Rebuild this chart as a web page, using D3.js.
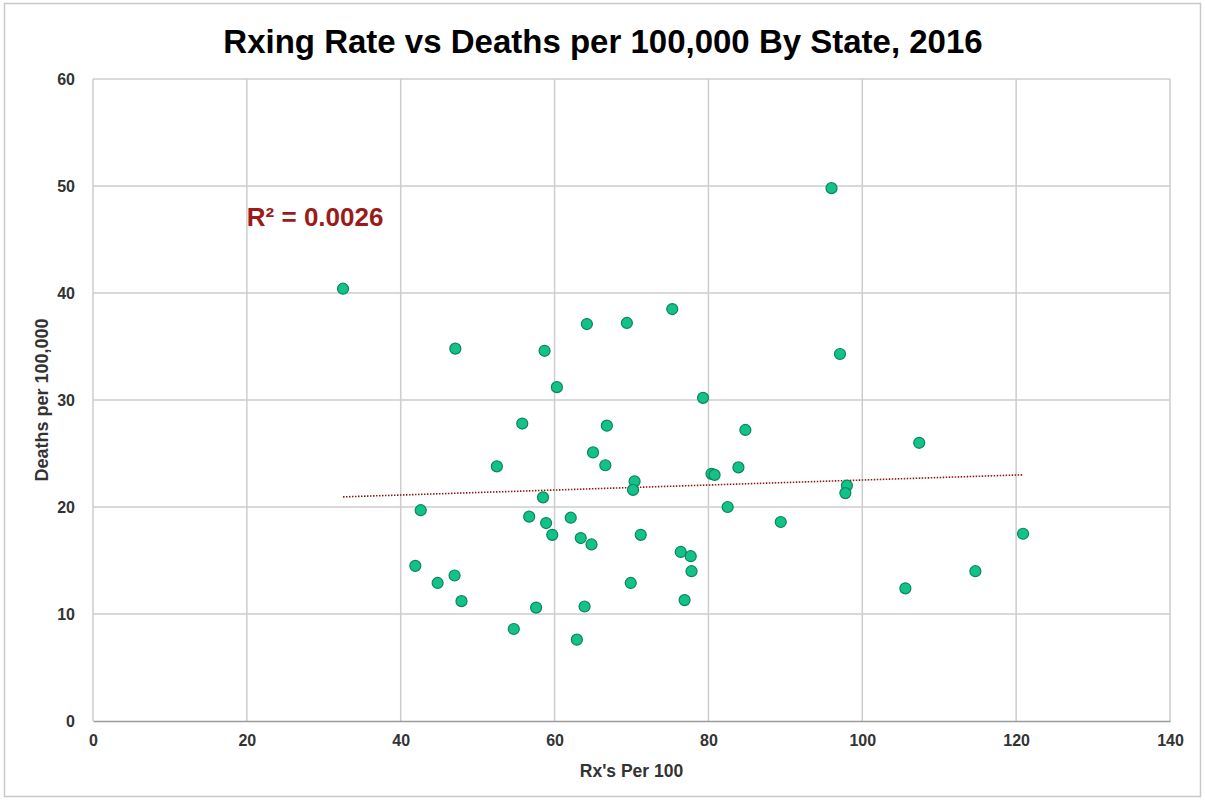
<!DOCTYPE html>
<html>
<head>
<meta charset="utf-8">
<script src="https://cdn.jsdelivr.net/npm/d3@7"></script>
<style>
 body { margin: 0; background: #fff; }
 text { font-family: "Liberation Sans", Arial, sans-serif; }
</style>
</head>
<body>
<div id="chart"></div>
<script>
// Rx's per 100 (x) and deaths per 100,000 (y), one entry per state
var rxRate = [32.5, 47.1, 58.7, 64.2, 69.4, 60.3, 55.8, 66.8, 65.0, 66.6,
 52.5, 80.4, 80.8, 70.4, 70.2, 58.5, 42.6, 56.7, 62.1, 58.9,
 59.7, 71.2, 63.4, 64.8, 76.4, 77.7, 77.8, 41.9, 47.0, 44.8,
 69.9, 47.9, 76.9, 57.6, 63.9, 54.7, 62.9, 75.3, 97.1, 79.3,
 84.8, 83.9, 98.0, 97.8, 82.5, 89.4, 96.0, 107.4, 120.9, 114.7, 105.6];
var deaths = [40.4, 34.8, 34.6, 37.1, 37.2, 31.2, 27.8, 27.6, 25.1, 23.9,
 23.8, 23.1, 23.0, 22.4, 21.6, 20.9, 19.7, 19.1, 19.0, 18.5,
 17.4, 17.4, 17.1, 16.5, 15.8, 15.4, 14.0, 14.5, 13.6, 12.9,
 12.9, 11.2, 11.3, 10.6, 10.7, 8.6, 7.6, 38.5, 34.3, 30.2,
 27.2, 23.7, 22.0, 21.3, 20.0, 18.6, 49.8, 26.0, 17.5, 14.0, 12.4];
var xTicks = [0, 20, 40, 60, 80, 100, 120, 140];
var yTicks = [0, 10, 20, 30, 40, 50, 60];
var rSquaredLabel = "R\u00B2 = 0.0026";

var W = 1205, H = 801;
var margin = {top: 79, right: 35, bottom: 80, left: 93},
 width = W - margin.left - margin.right,
 height = H - margin.top - margin.bottom;

var svg = d3.select("#chart")
 .append("svg")
 .attr("width", W)
 .attr("height", H);

// outer frame
svg.append("rect")
 .attr("x", 4.5).attr("y", 3.5)
 .attr("width", W - 9).attr("height", H - 8)
 .attr("fill", "none")
 .attr("stroke", "#c9c9c9")
 .attr("stroke-width", 1.5);

var g = svg.append("g")
 .attr("transform", "translate(" + margin.left + "," + margin.top + ")");

var x = d3.scaleLinear().domain([0, 140]).range([0, width]);
var y = d3.scaleLinear().domain([0, 60]).range([height, 0]);

// gridlines
g.append("g")
 .selectAll("line.v")
 .data(xTicks)
 .enter().append("line")
 .attr("x1", function(d) { return x(d); })
 .attr("x2", function(d) { return x(d); })
 .attr("y1", 0).attr("y2", height)
 .attr("stroke", "#cdcdcd")
 .attr("stroke-width", 1.5);

g.append("g")
 .selectAll("line.h")
 .data(yTicks.filter(function(d) { return d > 0; }))
 .enter().append("line")
 .attr("x1", 0).attr("x2", width)
 .attr("y1", function(d) { return y(d); })
 .attr("y2", function(d) { return y(d); })
 .attr("stroke", "#cdcdcd")
 .attr("stroke-width", 1.5);

// x axis
var xAxis = g.append("g")
 .attr("transform", "translate(0," + height + ")")
 .call(d3.axisBottom(x).tickValues(xTicks).tickSize(0).tickPadding(14));
xAxis.select(".domain").attr("stroke", "#9a9a9a").attr("stroke-width", 1.5);
xAxis.selectAll("text")
 .attr("fill", "#333")
 .style("font-size", "16px")
 .style("font-weight", "bold");

// y axis
var yAxis = g.append("g")
 .call(d3.axisLeft(y).tickValues(yTicks).tickSize(0).tickPadding(18));
yAxis.select(".domain").remove();
yAxis.selectAll("text")
 .attr("fill", "#333")
 .style("font-size", "16px")
 .style("font-weight", "bold");

// trendline from least squares fit
var n = rxRate.length;
var mx = d3.mean(rxRate), my = d3.mean(deaths);
var sxy = 0, sxx = 0;
for (var i = 0; i < n; i++) {
 sxy += (rxRate[i] - mx) * (deaths[i] - my);
 sxx += (rxRate[i] - mx) * (rxRate[i] - mx);
}
var slope = sxy / sxx, icpt = my - slope * mx;
var xMin = d3.min(rxRate), xMax = d3.max(rxRate);
g.append("line")
 .attr("x1", x(xMin)).attr("y1", y(icpt + slope * xMin))
 .attr("x2", x(xMax)).attr("y2", y(icpt + slope * xMax))
 .attr("stroke", "#8b1a1a")
 .attr("stroke-width", 1.6)
 .attr("stroke-dasharray", "1.5,1.5");

// points
g.selectAll("circle")
 .data(rxRate)
 .enter().append("circle")
 .attr("cx", function(d) { return x(d); })
 .attr("cy", function(d, i) { return y(deaths[i]); })
 .attr("r", 5.5)
 .attr("fill", "#12c28a")
 .attr("stroke", "#0b8659")
 .attr("stroke-width", 1.2);

// R squared label
g.append("text")
 .attr("x", x(20))
 .attr("y", y(46.3))
 .attr("fill", "#9b1b1b")
 .style("font-size", "26px")
 .style("font-weight", "bold")
 .text(rSquaredLabel);

// title
svg.append("text")
 .attr("x", 603)
 .attr("y", 53)
 .attr("text-anchor", "middle")
 .attr("fill", "#000")
 .style("font-size", "33px")
 .style("font-weight", "bold")
 .text("Rxing Rate vs Deaths per 100,000 By State, 2016");

// axis titles
svg.append("text")
 .attr("x", margin.left + width / 2)
 .attr("y", 777)
 .attr("text-anchor", "middle")
 .attr("fill", "#333")
 .style("font-size", "17.5px")
 .style("font-weight", "bold")
 .text("Rx's Per 100");

svg.append("text")
 .attr("transform", "translate(48," + (margin.top + height / 2) + ") rotate(-90)")
 .attr("text-anchor", "middle")
 .attr("fill", "#333")
 .style("font-size", "18px")
 .style("font-weight", "bold")
 .text("Deaths per 100,000");
</script>
</body>
</html>
